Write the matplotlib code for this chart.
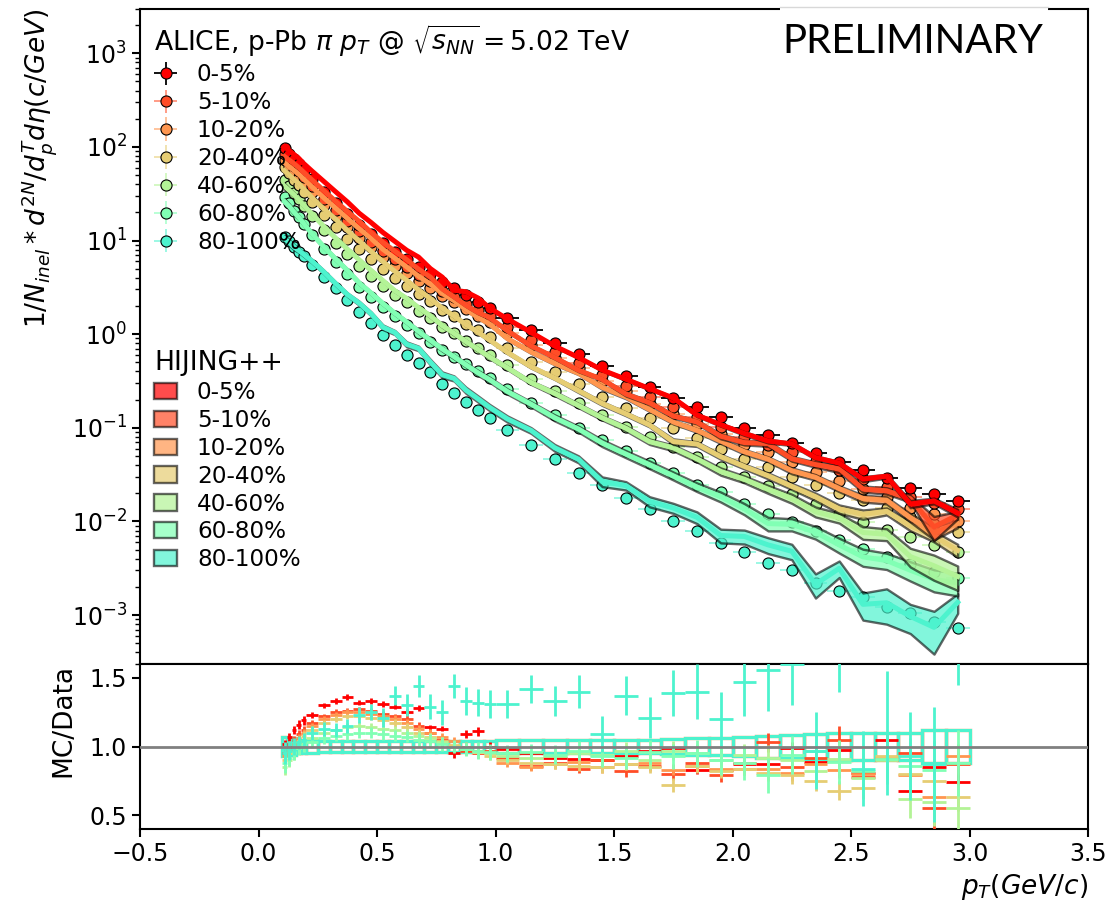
import numpy as np
import matplotlib
matplotlib.use('Agg')
import matplotlib.pyplot as plt
from matplotlib.patches import Rectangle
from matplotlib.lines import Line2D
from matplotlib.colors import to_rgba

# pT bin edges (GeV/c)
pt_edges = [0.10, 0.12, 0.14, 0.16, 0.18, 0.20, 0.25, 0.30, 0.35, 0.40, 0.45,
            0.50, 0.55, 0.60, 0.65, 0.70, 0.75, 0.80, 0.85, 0.90, 0.95, 1.00,
            1.10, 1.20, 1.30, 1.40, 1.50, 1.60, 1.70, 1.80, 1.90, 2.00,
            2.10, 2.20, 2.30, 2.40, 2.50, 2.60, 2.70, 2.80, 2.90, 3.00]

centralities = ['0-5%', '5-10%', '10-20%', '20-40%', '40-60%', '60-80%', '80-100%']

# ALICE data, 1/N dN/dpT deta
yield_0_5 = [98, 85, 74, 65, 56, 45, 33, 25, 19, 14.8, 11.7, 9.3, 7.6, 6.3, 5.2, 4.4, 3.6, 3.1, 2.6, 2.2,
             1.9, 1.48, 1.10, 0.81, 0.62, 0.46, 0.355, 0.27, 0.21, 0.165, 0.13, 0.10, 0.083, 0.068,
             0.054, 0.043, 0.035, 0.029, 0.0226, 0.0195, 0.0166]
yield_5_10 = [83, 72, 63, 55, 48, 38, 28, 21, 16.2, 12.6, 9.7, 7.7, 6.3, 5.2, 4.3, 3.7, 2.9, 2.5, 2.1, 1.8,
              1.55, 1.18, 0.87, 0.64, 0.49, 0.365, 0.28, 0.215, 0.167, 0.131, 0.103, 0.079, 0.066, 0.055,
              0.044, 0.035, 0.0285, 0.0236, 0.0184, 0.0159, 0.0135]
yield_10_20 = [73, 63, 55, 48, 41.5, 32.6, 23.9, 18.1, 13.8, 10.7, 8.5, 6.6, 5.4, 4.46, 3.68, 3.12, 2.55,
               2.19, 1.84, 1.56, 1.35, 1.02, 0.76, 0.56, 0.43, 0.318, 0.246, 0.178, 0.139, 0.109, 0.086,
               0.066, 0.055, 0.043, 0.034, 0.027, 0.022, 0.0183, 0.0139, 0.0120, 0.0102]
yield_20_40 = [61.7, 52.5, 44.7, 38.9, 33.1, 25.7, 18.6, 14.1, 10.5, 8.1, 6.3, 5.0, 4.0, 3.3, 2.7, 2.24,
               1.82, 1.55, 1.29, 1.10, 0.93, 0.71, 0.51, 0.39, 0.29, 0.214, 0.162, 0.126, 0.099, 0.078,
               0.060, 0.046, 0.038, 0.030, 0.0245, 0.020, 0.017, 0.0138, 0.0112, 0.0093, 0.0078]
yield_40_60 = [44.7, 38.0, 32.4, 27.5, 23.4, 18.2, 12.9, 9.5, 7.1, 5.4, 4.2, 3.3, 2.6, 2.19, 1.78, 1.48,
               1.20, 1.02, 0.85, 0.72, 0.60, 0.47, 0.33, 0.25, 0.182, 0.136, 0.102, 0.079, 0.063, 0.049,
               0.038, 0.030, 0.024, 0.0195, 0.0155, 0.012, 0.0099, 0.0081, 0.0068, 0.0056, 0.0047]
yield_60_80 = [29.5, 25.1, 20.9, 17.8, 15.1, 11.5, 8.1, 5.9, 4.4, 3.2, 2.5, 1.95, 1.55, 1.26, 1.02, 0.83,
               0.68, 0.575, 0.48, 0.40, 0.34, 0.257, 0.186, 0.136, 0.100, 0.074, 0.057, 0.042, 0.033,
               0.0245, 0.0204, 0.0155, 0.012, 0.0099, 0.0079, 0.0063, 0.0051, 0.0042, 0.0035, 0.0029, 0.0025]
yield_80_100 = [11.0, 9.8, 8.5, 7.6, 6.8, 5.5, 4.1, 3.1, 2.3, 1.74, 1.32, 0.98, 0.76, 0.60, 0.49, 0.39,
                0.295, 0.234, 0.19, 0.155, 0.126, 0.095, 0.066, 0.046, 0.033, 0.0245, 0.0176, 0.0135,
                0.0100, 0.0079, 0.0059, 0.0047, 0.0036, 0.0030, 0.0022, 0.0018, 0.00155, 0.00123,
                0.00104, 0.00085, 0.00072]
data_rel_err = 0.03

# HIJING++ / data ratio and its uncertainty
ratio_0_5 = [1.02, 1.07, 1.12, 1.16, 1.19, 1.23, 1.30, 1.33, 1.36, 1.32, 1.33, 1.31, 1.29, 1.25, 1.28, 1.14,
             1.13, 0.95, 1.09, 1.11, 1.00, 0.98, 0.95, 0.92, 0.91, 0.90, 0.93, 0.97, 0.99, 0.83, 0.83,
             0.87, 0.87, 0.99, 0.89, 0.975, 0.81, 1.05, 0.68, 0.85, 0.74]
err_0_5 = [0.03, 0.03, 0.03, 0.03, 0.03, 0.02, 0.02, 0.02, 0.02, 0.02, 0.02, 0.02, 0.02, 0.02, 0.02, 0.02,
           0.02, 0.03, 0.03, 0.03, 0.03, 0.02, 0.02, 0.02, 0.02, 0.02, 0.03, 0.03, 0.03, 0.03, 0.03,
           0.04, 0.04, 0.04, 0.04, 0.04, 0.05, 0.05, 0.06, 0.06, 0.07]
ratio_5_10 = [0.95, 1.00, 1.05, 1.09, 1.12, 1.17, 1.22, 1.25, 1.26, 1.27, 1.26, 1.24, 1.22, 1.20, 1.15, 1.10,
              1.05, 1.00, 0.97, 0.95, 0.97, 0.92, 0.86, 0.88, 0.84, 0.90, 0.82, 0.86, 0.80, 0.88, 0.79,
              0.88, 1.03, 0.85, 0.92, 1.05, 0.78, 0.90, 0.95, 0.55, 0.87]
err_5_10 = [0.03, 0.03, 0.03, 0.03, 0.03, 0.02, 0.02, 0.02, 0.02, 0.02, 0.02, 0.02, 0.02, 0.03, 0.03, 0.03,
            0.03, 0.03, 0.03, 0.03, 0.03, 0.03, 0.03, 0.03, 0.03, 0.03, 0.04, 0.04, 0.04, 0.04, 0.05,
            0.05, 0.07, 0.05, 0.06, 0.10, 0.06, 0.07, 0.08, 0.16, 0.08]
ratio_10_20 = [0.93, 0.97, 1.02, 1.06, 1.10, 1.15, 1.20, 1.23, 1.25, 1.25, 1.24, 1.22, 1.20, 1.17, 1.13, 1.10,
               1.07, 1.04, 1.00, 0.97, 0.95, 0.88, 0.85, 0.87, 0.89, 0.85, 0.87, 0.88, 0.83, 0.86, 0.84,
               0.84, 0.84, 0.81, 0.87, 0.83, 0.80, 0.92, 0.79, 0.63, 0.93]
err_10_20 = [0.04, 0.03, 0.03, 0.03, 0.03, 0.02, 0.02, 0.02, 0.02, 0.02, 0.02, 0.02, 0.03, 0.03, 0.03, 0.03,
             0.03, 0.03, 0.03, 0.03, 0.03, 0.03, 0.03, 0.03, 0.03, 0.04, 0.04, 0.04, 0.04, 0.04, 0.05,
             0.05, 0.05, 0.06, 0.06, 0.06, 0.07, 0.08, 0.08, 0.10, 0.09]
ratio_20_40 = [0.90, 0.95, 1.00, 1.04, 1.08, 1.12, 1.17, 1.20, 1.22, 1.22, 1.21, 1.19, 1.17, 1.14, 1.10, 1.07,
               1.04, 1.01, 0.98, 0.96, 0.93, 0.90, 0.88, 0.87, 0.86, 0.85, 0.87, 0.85, 0.72, 0.86, 0.82,
               0.84, 0.81, 0.79, 0.75, 0.68, 0.70, 0.93, 0.80, 0.75, 0.63]
err_20_40 = [0.04, 0.04, 0.03, 0.03, 0.03, 0.03, 0.02, 0.02, 0.02, 0.02, 0.02, 0.03, 0.03, 0.03, 0.03, 0.03,
             0.03, 0.03, 0.03, 0.03, 0.03, 0.03, 0.03, 0.03, 0.04, 0.04, 0.04, 0.04, 0.05, 0.05, 0.05,
             0.05, 0.06, 0.06, 0.07, 0.07, 0.08, 0.08, 0.09, 0.10, 0.10]
ratio_40_60 = [0.85, 0.90, 0.95, 0.99, 1.02, 1.06, 1.10, 1.12, 1.14, 1.15, 1.14, 1.13, 1.12, 1.10, 1.08, 1.06,
               1.03, 1.00, 0.98, 0.96, 0.95, 0.93, 0.92, 0.93, 0.95, 0.94, 0.97, 0.90, 0.97, 0.95, 0.90,
               0.94, 0.92, 0.90, 0.82, 0.91, 0.77, 0.90, 0.62, 0.60, 0.55]
err_40_60 = [0.06, 0.05, 0.05, 0.04, 0.04, 0.03, 0.03, 0.03, 0.03, 0.03, 0.03, 0.03, 0.03, 0.03, 0.03, 0.04,
             0.04, 0.04, 0.04, 0.04, 0.04, 0.04, 0.04, 0.05, 0.05, 0.05, 0.06, 0.06, 0.07, 0.07, 0.08,
             0.08, 0.09, 0.10, 0.10, 0.11, 0.12, 0.13, 0.14, 0.18, 0.16]
ratio_60_80 = [0.88, 0.92, 0.96, 0.99, 1.01, 1.03, 1.06, 1.08, 1.09, 1.10, 1.10, 1.09, 1.08, 1.07, 1.05, 1.04,
               1.02, 1.00, 0.98, 0.97, 0.96, 0.95, 0.96, 0.94, 0.97, 0.93, 0.92, 0.96, 0.93, 0.95, 0.90,
               0.88, 0.79, 0.94, 0.97, 0.89, 0.82, 0.91, 0.86, 0.83, 0.88]
err_60_80 = [0.07, 0.06, 0.06, 0.05, 0.05, 0.04, 0.04, 0.04, 0.04, 0.04, 0.04, 0.04, 0.04, 0.04, 0.05, 0.05,
             0.05, 0.05, 0.05, 0.06, 0.06, 0.06, 0.06, 0.07, 0.07, 0.08, 0.08, 0.09, 0.09, 0.10, 0.11,
             0.12, 0.13, 0.14, 0.15, 0.16, 0.17, 0.18, 0.20, 0.22, 0.24]
ratio_80_100 = [0.95, 0.97, 1.00, 1.03, 1.05, 1.10, 1.13, 1.12, 1.15, 1.23, 1.25, 1.21, 1.37, 1.30, 1.44, 1.29,
                1.25, 1.44, 1.33, 1.32, 1.31, 1.31, 1.42, 1.33, 1.40, 1.09, 1.37, 1.21, 1.39, 1.40, 1.20,
                1.47, 1.56, 1.60, 0.97, 1.75, 0.84, 1.10, 0.93, 0.87, 1.90]
err_80_100 = [0.08, 0.07, 0.06, 0.05, 0.05, 0.05, 0.05, 0.05, 0.05, 0.06, 0.06, 0.07, 0.07, 0.08, 0.08, 0.09,
              0.09, 0.09, 0.10, 0.10, 0.10, 0.10, 0.10, 0.11, 0.12, 0.13, 0.14, 0.15, 0.17, 0.20, 0.20,
              0.25, 0.30, 0.30, 0.28, 0.35, 0.27, 0.45, 0.32, 0.42, 0.45]

# relative systematic uncertainty of the data (boxes in ratio panel)
data_sys = [0.07, 0.06, 0.06, 0.05, 0.05, 0.045, 0.04, 0.04, 0.04, 0.04, 0.04, 0.04, 0.04, 0.04, 0.04, 0.04,
            0.04, 0.04, 0.04, 0.04, 0.04, 0.045, 0.045, 0.045, 0.05, 0.05, 0.05, 0.05, 0.055, 0.06, 0.06,
            0.07, 0.08, 0.085, 0.09, 0.095, 0.10, 0.10, 0.10, 0.12, 0.12]

yields = [yield_0_5, yield_5_10, yield_10_20, yield_20_40, yield_40_60, yield_60_80, yield_80_100]
ratios = [ratio_0_5, ratio_5_10, ratio_10_20, ratio_20_40, ratio_40_60, ratio_60_80, ratio_80_100]
ratio_errs = [err_0_5, err_5_10, err_10_20, err_20_40, err_40_60, err_60_80, err_80_100]

pt_lo = np.array(pt_edges[:-1])
pt_hi = np.array(pt_edges[1:])
pt = 0.5 * (pt_lo + pt_hi)
half = 0.5 * (pt_hi - pt_lo)

colors = plt.cm.rainbow(np.linspace(1.0, 0.4, 7))

fig = plt.figure(figsize=(11.08, 9.13), dpi=100)
ax = fig.add_axes([0.1264, 0.2727, 0.8556, 0.7179])
axr = fig.add_axes([0.1264, 0.0920, 0.8556, 0.1807], sharex=ax)

data_h = [None] * 7
mc_h = [None] * 7
for i in reversed(range(7)):
    c = colors[i]
    y = np.array(yields[i])
    r = np.array(ratios[i])
    e = np.array(ratio_errs[i])
    mc = y * r
    rel = e / r
    ecol = 'k' if i == 0 else to_rgba(c, 0.6)
    data_h[i] = ax.errorbar(pt, y, xerr=half, yerr=y * data_rel_err, fmt='o', ms=8, mfc=c, mec='k',
                            mew=0.8, ecolor=ecol, elinewidth=1.3, capsize=0, zorder=2)
    mc_h[i] = ax.fill_between(pt, mc * (1 - rel), mc * (1 + rel), facecolor=to_rgba(c, 0.7),
                              edgecolor=(0, 0, 0, 0.6), lw=1.7, zorder=3)
    ax.plot(pt, mc, color=c, lw=3.6, zorder=3)

ax.set_yscale('log')
ax.set_ylim(3e-4, 3e3)
ax.set_xlim(-0.5, 3.5)
ax.tick_params(axis='x', bottom=False, labelbottom=False)
ax.tick_params(axis='y', which='major', direction='out', length=6, width=1.5, labelsize=17)
ax.tick_params(axis='y', which='minor', direction='out', length=3.5, width=1)
ax.set_ylabel(r'$1/N_{inel}*d^{2N}/d_p^Td\eta(c/GeV)$', fontsize=19, loc='top', labelpad=9)

leg_kw = dict(loc='upper left', alignment='left', frameon=False, fontsize=16.7, title_fontsize=19.2,
              handlelength=1.0, handletextpad=0.85, labelspacing=0.21, borderaxespad=0.3, borderpad=0.3)
leg1 = ax.legend(data_h, centralities,
                 title=r'ALICE, p-Pb $\pi$ $p_T$ @ $\sqrt{s_{NN}} = 5.02$ TeV', **leg_kw)
ax.add_artist(leg1)
ax.legend(mc_h, centralities, title='HIJING++', bbox_to_anchor=(0, 0.50), **leg_kw)

# ratio panel
for i in range(7):
    c = colors[i]
    for lo, hi, s in zip(pt_lo, pt_hi, data_sys):
        axr.add_patch(Rectangle((lo, 1 - s), hi - lo, 2 * s, fill=False, edgecolor=c, lw=2.2, zorder=2))
    axr.errorbar(pt, ratios[i], xerr=half, yerr=ratio_errs[i], fmt='none', ecolor=c,
                 elinewidth=2, capsize=0, zorder=3)
axr.axhline(1.0, color='gray', lw=2, zorder=4)

axr.set_ylim(0.4, 1.6)
axr.set_yticks([0.5, 1.0, 1.5])
axr.set_xticks(np.arange(-0.5, 3.51, 0.5))
axr.tick_params(axis='both', direction='out', length=6, width=1.5, labelsize=17)
axr.set_ylabel('MC/Data', fontsize=19, loc='top', labelpad=9)
axr.set_xlabel(r'$p_T(GeV/c)$', fontsize=19, loc='right')

for a in (ax, axr):
    for sp in a.spines.values():
        sp.set_linewidth(1.5)

# "PRELIMINARY" stamp over the top frame
fig.add_artist(Rectangle((780 / 1108, 1 - 70 / 913), 268 / 1108, 70 / 913, transform=fig.transFigure,
                         facecolor='white', edgecolor='none', zorder=5))
fig.add_artist(Line2D([780 / 1108, 1048 / 1108], [1 - 7.3 / 913] * 2, transform=fig.transFigure,
                      color='#d8d8d8', lw=1, zorder=6))
fig.text(782 / 1108, 1 - 53 / 913, 'PRELIMINARY', fontsize=29, family='Lato', va='baseline', zorder=7)

fig.savefig('out.png', dpi=100)
